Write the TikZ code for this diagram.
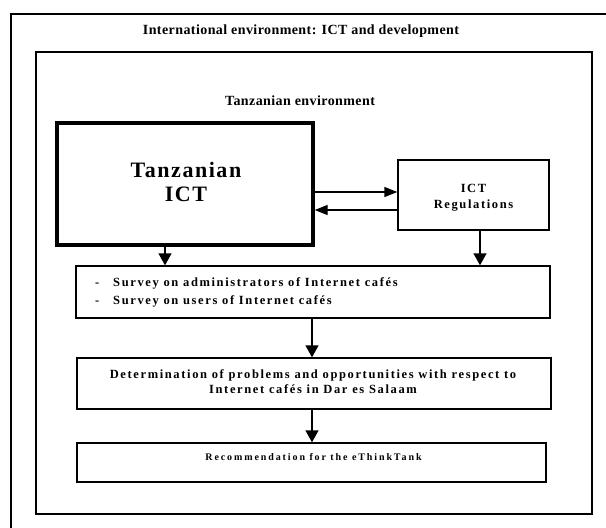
\documentclass[tikz,border=0pt]{standalone}
\usepackage{fontspec}
\setmainfont{Liberation Serif}
\newfontfamily\headfont[LetterSpace=3]{Liberation Serif}
\newfontfamily\bigfont[LetterSpace=7]{Liberation Serif}
\newfontfamily\bodyfont[LetterSpace=13]{Liberation Serif}
\newfontfamily\smallfont[LetterSpace=19]{Liberation Serif}
\usetikzlibrary{arrows.meta}
\begin{document}
\begin{tikzpicture}[x=1pt,y=-1pt,
  frame/.style={draw,line width=1.4pt},
  box/.style={draw,line width=1.4pt,inner sep=0pt},
  heavybox/.style={draw,line width=3.4pt,inner sep=0pt},
  vflow/.style={line width=1.4pt,-{Triangle[width=13pt,length=12pt]}},
  hflow/.style={line width=1.4pt,-{Triangle[width=10pt,length=13pt]}},
  lbl/.style={inner sep=0pt,align=center}]
\useasboundingbox (0,0) rectangle (606,528);
\begin{scope}
\clip (0,0) rectangle (606,528);
% outer frame runs off the page on the right and bottom
\draw[frame] (11,545) -- (11,14) -- (625,14);
\end{scope}
% inner frame
\node[box,minimum width=556pt,minimum height=462pt] (tzframe) at (314,283) {};
\node[lbl,font=\headfont\bfseries\fontsize{14}{16}\selectfont] (intl) at (301,31) {International environment: ICT and development};
\node[lbl,font=\headfont\bfseries\fontsize{14}{16}\selectfont] (tzenv) at (300,101) {Tanzanian environment};
% boxes
\node[heavybox,minimum width=256pt,minimum height=122pt] (ict) at (185,184) {};
\node[lbl,font=\bigfont\bfseries\fontsize{22}{24}\selectfont] (ictlbl) at (186,182) {Tanzanian\\ICT};
\node[box,minimum width=151pt,minimum height=70pt] (reg) at (473.5,195) {};
\node[lbl,font=\bodyfont\bfseries\fontsize{12.5}{16}\selectfont] (reglbl) at (473.5,198) {ICT\\Regulations};
\node[box,minimum width=474pt,minimum height=52pt] (survey) at (313,292) {};
\node[lbl,align=left,anchor=west,font=\bodyfont\bfseries\fontsize{12.5}{18}\selectfont] (surveylbl) at (95,292)
  {\makebox[18pt][l]{-}Survey on administrators of Internet cafés\\
   \makebox[18pt][l]{-}Survey on users of Internet cafés};
\node[box,minimum width=474pt,minimum height=51pt] (det) at (314,383.5) {};
\node[lbl,font=\bodyfont\bfseries\fontsize{12.5}{15}\selectfont] (detlbl) at (313,381.5)
  {Determination of problems and opportunities with respect to\\Internet cafés in Dar es Salaam};
\node[box,minimum width=469pt,minimum height=39pt] (rec) at (311.5,462.5) {};
\node[lbl,font=\smallfont\bfseries\fontsize{10}{12}\selectfont] (reclbl) at (313.5,457) {Recommendation for the eThinkTank};
% connector columns
\coordinate (xa) at (165,0);
\coordinate (xb) at (480,0);
\coordinate (xc) at (312,0);
\coordinate (ya) at (0,192);
\coordinate (yb) at (0,210);
\draw[vflow] (ict.south -| xa) -- (survey.north -| xa);
\draw[vflow] (reg.south -| xb) -- (survey.north -| xb);
\draw[vflow] (survey.south -| xc) -- (det.north -| xc);
\draw[vflow] (det.south -| xc) -- (rec.north -| xc);
\draw[hflow] (ict.east |- ya) -- (reg.west |- ya);
\draw[hflow] (reg.west |- yb) -- (ict.east |- yb);
\end{tikzpicture}
\end{document}
